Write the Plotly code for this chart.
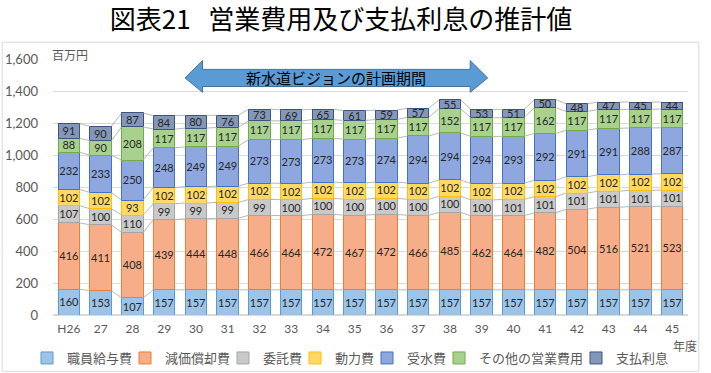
import plotly.graph_objects as go
import numpy as np

categories = ["H26", "27", "28", "29", "30", "31", "32", "33", "34", "35",
              "36", "37", "38", "39", "40", "41", "42", "43", "44", "45"]

salary = [160, 153, 107, 157, 157, 157, 157, 157, 157, 157, 157, 157, 157, 157, 157, 157, 157, 157, 157, 157]
depreciation = [416, 411, 408, 439, 444, 448, 466, 464, 472, 467, 472, 466, 485, 462, 464, 482, 504, 516, 521, 523]
outsourcing = [107, 100, 110, 99, 99, 99, 99, 100, 100, 100, 100, 100, 100, 100, 101, 101, 101, 101, 101, 101]
power = [102, 102, 93, 102, 102, 102, 102, 102, 102, 102, 102, 102, 102, 102, 102, 102, 102, 102, 102, 102]
water_purchase = [232, 233, 250, 248, 249, 249, 273, 273, 273, 273, 274, 294, 294, 294, 293, 292, 291, 291, 288, 287]
other_expenses = [88, 90, 208, 117, 117, 117, 117, 117, 117, 117, 117, 117, 152, 117, 117, 162, 117, 117, 117, 117]
interest = [91, 90, 87, 84, 80, 76, 73, 69, 65, 61, 59, 57, 55, 53, 51, 50, 48, 47, 45, 44]

series_names = ["職員給与費", "減価償却費", "委託費", "動力費", "受水費", "その他の営業費用", "支払利息"]
series_values = [salary, depreciation, outsourcing, power, water_purchase, other_expenses, interest]
fills = ["#9DC3E6", "#F6AD8A", "#C9C9C9", "#FFD966", "#8EA7DE", "#A9D18E", "#8497B8"]
borders = ["#5B9BD5", "#ED7D31", "#A5A5A5", "#FFC000", "#4472C4", "#70AD47", "#3B5580"]
label_sizes = [12, 12, 12, 12, 12, 12, 11]
legend_text_px = [67, 165, 263, 335, 407, 479, 616]  # left edge of each legend label (pixels)

FONT = "Lato, Noto Sans CJK JP, sans-serif"
JP = "Noto Sans CJK JP, sans-serif"
BAR_W = 0.67
W, H = 711, 373
ML, MR, MT, MB = 53, 23, 59, 58
PW = W - ML - MR

x = np.arange(len(categories))
fig = go.Figure()

legend_ids = ["legend"] + [f"legend{i}" for i in range(2, len(series_names) + 1)]
for name, vals, fc, bc, lid, ls in zip(series_names, series_values, fills, borders, legend_ids, label_sizes):
    fig.add_trace(go.Bar(
        x=x, y=vals, name=name, legend=lid,
        marker=dict(color=fc, line=dict(color=bc, width=1)),
        width=BAR_W,
        text=[str(v) for v in vals],
        textposition="inside", insidetextanchor="middle", textangle=0,
        textfont=dict(family=FONT, size=ls, color="#262626"),
        constraintext="none", cliponaxis=False,
    ))

# series connector lines between stacked segment tops
cum = np.cumsum(np.array(series_values), axis=0)
lx, ly = [], []
for level in cum:
    for i in range(len(categories) - 1):
        lx += [i + BAR_W / 2, i + 1 - BAR_W / 2, None]
        ly += [level[i], level[i + 1], None]
fig.add_trace(go.Scatter(x=lx, y=ly, mode="lines", line=dict(color="#A6A6A6", width=0.8),
                         showlegend=False, hoverinfo="skip"))

# arrow for planning period
ax0, ax1, head = 3.66, 13.19, 0.55
ys_top, ys_bot, yh_top, yh_bot = 1535, 1428, 1590, 1392
ymid = (ys_top + ys_bot) / 2
path = (f"M {ax0},{ymid} L {ax0+head},{yh_top} L {ax0+head},{ys_top} L {ax1-head},{ys_top} "
        f"L {ax1-head},{yh_top} L {ax1},{ymid} L {ax1-head},{yh_bot} L {ax1-head},{ys_bot} "
        f"L {ax0+head},{ys_bot} L {ax0+head},{yh_bot} Z")
fig.add_shape(type="path", path=path, xref="x", yref="y",
              fillcolor="#5B9BD5", line=dict(color="#41719C", width=1))
fig.add_annotation(x=(ax0 + ax1) / 2, y=ymid, xref="x", yref="y", text="新水道ビジョンの計画期間",
                   showarrow=False, font=dict(family=JP, size=15, color="#000000"))

# outer border
fig.add_shape(type="rect", xref="paper", yref="paper", x0=-0.080, x1=1.017, y0=-0.22, y1=1.066,
              line=dict(color="#D9D9D9", width=1), layer="below")

fig.add_annotation(x=-0.005, y=1.016, xref="paper", yref="paper", text="百万円", showarrow=False,
                   xanchor="left", yanchor="middle", font=dict(family=JP, size=12, color="#595959"))
fig.add_annotation(x=0.995, y=-0.121, xref="paper", yref="paper", text="年度", showarrow=False,
                   xanchor="center", yanchor="middle", font=dict(family=JP, size=12, color="#595959"))

layout_legends = {}
for lid, tpx in zip(legend_ids, legend_text_px):
    layout_legends[lid] = dict(orientation="h", x=(tpx - 40 - ML) / PW, xanchor="left",
                               y=-0.168, yanchor="middle",
                               font=dict(family=JP, size=13, color="#595959"),
                               bgcolor="rgba(0,0,0,0)", borderwidth=0)

fig.update_layout(
    width=W, height=H,
    margin=dict(l=ML, r=MR, t=MT, b=MB, autoexpand=False),
    barmode="stack", bargap=0.33,
    plot_bgcolor="white", paper_bgcolor="white",
    title=dict(text="図表21&nbsp;&nbsp;&nbsp;営業費用及び支払利息の推計値", x=341 / W, xanchor="center",
               y=1 - 20 / H, yanchor="middle", yref="container",
               font=dict(family=JP, size=26, color="#000000")),
    showlegend=True,
    uniformtext=dict(minsize=11, mode="show"),
    font=dict(family=FONT),
    **layout_legends,
)
fig.update_xaxes(tickvals=x, ticktext=categories, range=[-0.5, len(categories) - 0.5],
                 showgrid=False, zeroline=False, showline=False, ticklabelstandoff=5,
                 tickfont=dict(family=FONT, size=12, color="#595959"))
fig.update_yaxes(range=[0, 1600], dtick=200, tickformat=",", showgrid=True,
                 gridcolor="#D9D9D9", gridwidth=1, zeroline=True, zerolinecolor="#D9D9D9",
                 showline=False, ticklabelstandoff=14,
                 tickfont=dict(family=FONT, size=13, color="#595959"))

fig.write_html("out.html")
